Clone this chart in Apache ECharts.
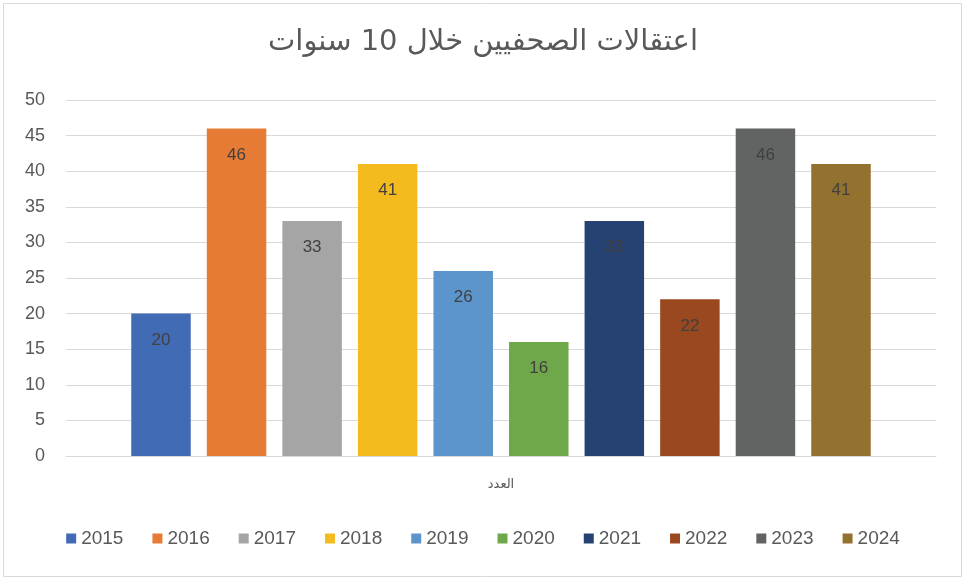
<!DOCTYPE html>
<html style="height: 100%">
<head>
    <meta charset="utf-8">
    <script src="https://cdn.jsdelivr.net/npm/echarts@6/dist/echarts.min.js"></script>
</head>
<body style="height: 100%;margin: 0;background: #fff">
<div id="chart1" style="width: 966px;height: 581px;"></div>
<script type="text/javascript">
// 数据
var categories = ['العدد'];
var years = ['2015', '2016', '2017', '2018', '2019', '2020', '2021', '2022', '2023', '2024'];
var values = [20, 46, 33, 41, 26, 16, 33, 22, 46, 41];
var colors = ['#426bb5', '#e57b35', '#a5a5a5', '#f4bb1e', '#5b95cb', '#6fa84a', '#264272', '#9a4820', '#626363', '#93712e'];
var yTicks = {min: 0, max: 50, interval: 5};

var myChart = echarts.init(document.getElementById('chart1'));
var series = [];
for (var i = 0; i < years.length; i++) {
    series.push({
        name: years[i],
        type: 'bar',
        data: [values[i]],
        barGap: '27%',
        barCategoryGap: '15%',
        itemStyle: {color: colors[i]},
        label: {
            show: true,
            position: 'insideTop',
            distance: 18,
            color: '#404040',
            fontSize: 17,
            fontFamily: 'Liberation Sans'
        }
    });
}
var option = {
    color: colors,
    animation: false,
    title: {
        text: 'اعتقالات الصحفيين خلال 10 سنوات',
        left: 'center',
        top: 23,
        textStyle: {color: '#595959', fontSize: 29, fontWeight: 'normal', fontFamily: 'DejaVu Sans'}
    },
    grid: {left: 66, right: 30, top: 100, bottom: 125, containLabel: false},
    legend: {
        bottom: 28,
        left: 'center',
        itemWidth: 10,
        itemHeight: 10,
        itemGap: 29,
        icon: 'rect',
        textStyle: {color: '#595959', fontSize: 19, fontFamily: 'Liberation Sans'},
        data: years
    },
    xAxis: {
        type: 'category',
        data: categories,
        axisLine: {lineStyle: {color: '#d9d9d9'}},
        axisTick: {show: false},
        axisLabel: {color: '#595959', fontSize: 13, margin: 22, fontFamily: 'DejaVu Sans'}
    },
    yAxis: {
        type: 'value',
        min: yTicks.min,
        max: yTicks.max,
        interval: yTicks.interval,
        axisLine: {show: false},
        axisTick: {show: false},
        axisLabel: {color: '#595959', fontSize: 18, margin: 21, fontFamily: 'Liberation Sans'},
        splitLine: {lineStyle: {color: '#d9d9d9'}}
    },
    graphic: [{
        type: 'rect',
        shape: {x: 3.5, y: 3.5, width: 958, height: 573},
        style: {fill: 'none', stroke: '#d9d9d9', lineWidth: 1},
        silent: true
    }],
    series: series
};
myChart.setOption(option);
</script>
</body>
</html>
